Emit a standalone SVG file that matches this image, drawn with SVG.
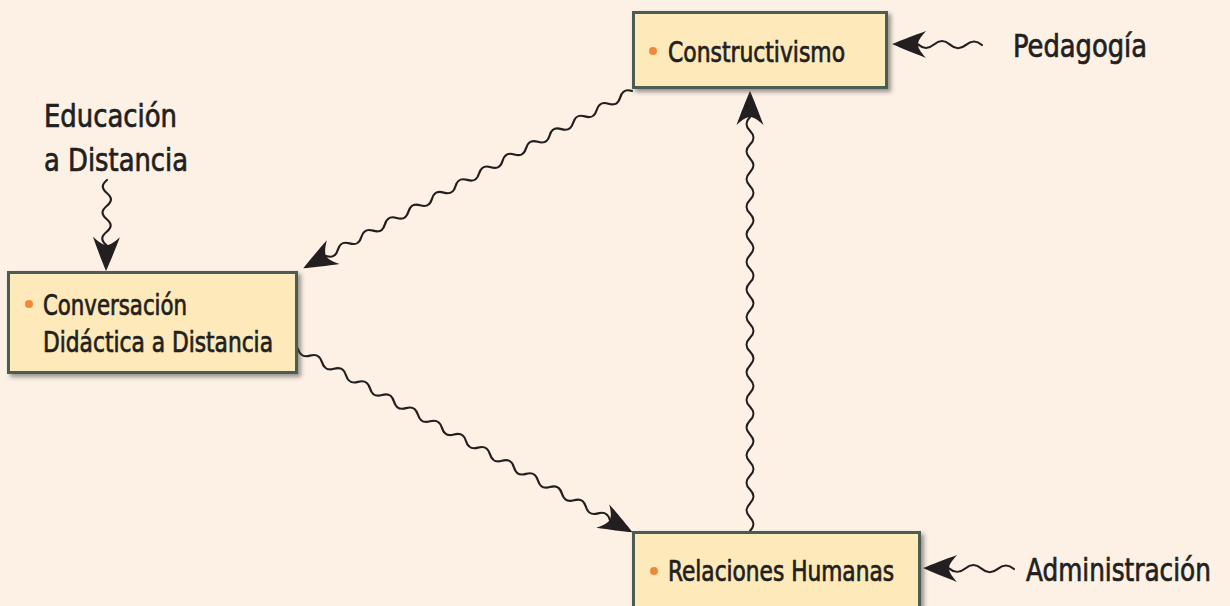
<svg xmlns="http://www.w3.org/2000/svg" xmlns:xlink="http://www.w3.org/1999/xlink" width="1230" height="606" viewBox="0 0 1230 606">
<style>
.bg{fill:#fdf0e5}
.box{fill:#fde9b9;stroke:#4b5b52;stroke-width:3;filter:url(#sh)}
.dot{fill:#f0883a}
.t{font-family:"DejaVu Sans Condensed","DejaVu Sans",sans-serif;font-stretch:condensed;fill:#231f20;stroke:#231f20;stroke-width:0.7px}
.bt{font-size:28px}
.lt{font-size:32px}
.w{fill:none;stroke:#231f20;stroke-width:2.2;stroke-linecap:round}
.ah{fill:#231f20}
</style>
<defs>
<filter id="sh" x="-10%" y="-10%" width="125%" height="135%">
<feDropShadow dx="3" dy="3" stdDeviation="2" flood-color="#444" flood-opacity="0.55"/>
</filter>
<path id="ah" d="M0,0 C-9,-4 -22,-9 -34,-13.5 C-28,-7 -26,-3 -26,0 C-26,3 -28,7 -34,13.5 C-22,9 -9,4 0,0 Z"/>
</defs>
<rect class="bg" x="0" y="0" width="1230" height="606"/>

<g id="connectors">
<g id="c-constr-conv" transform="translate(632,91) rotate(151.65)">
<path class="w" d="M0,0 c4.81,4.8 8.56,4.8 13.37,0 c4.81,-4.8 8.56,-4.8 13.37,0 c4.81,4.8 8.56,4.8 13.37,0 c4.81,-4.8 8.56,-4.8 13.37,0 c4.81,4.8 8.56,4.8 13.37,0 c4.81,-4.8 8.56,-4.8 13.37,0 c4.81,4.8 8.56,4.8 13.37,0 c4.81,-4.8 8.56,-4.8 13.37,0 c4.81,4.8 8.56,4.8 13.37,0 c4.81,-4.8 8.56,-4.8 13.37,0 c4.81,4.8 8.56,4.8 13.37,0 c4.81,-4.8 8.56,-4.8 13.37,0 c4.81,4.8 8.56,4.8 13.37,0 c4.81,-4.8 8.56,-4.8 13.37,0 c4.81,4.8 8.56,4.8 13.37,0 c4.81,-4.8 8.56,-4.8 13.37,0 c4.81,4.8 8.56,4.8 13.37,0 c4.81,-4.8 8.56,-4.8 13.37,0 c4.81,4.8 8.56,4.8 13.37,0 c4.81,-4.8 8.56,-4.8 13.37,0 c4.81,4.8 8.56,4.8 13.37,0 c4.81,-4.8 8.56,-4.8 13.37,0 c4.81,4.8 8.56,4.8 13.37,0 c4.81,-4.8 8.56,-4.8 13.37,0 c4.81,4.8 8.56,4.8 13.37,0 c4.81,-4.8 8.56,-4.8 13.37,0"/>
<use xlink:href="#ah" class="ah" transform="translate(373.5,0)"/>
</g>
<g id="c-conv-rel" transform="translate(298,349) rotate(28.72)">
<path class="w" d="M0,0 c4.92,4.8 8.76,4.8 13.68,0 c4.92,-4.8 8.76,-4.8 13.68,0 c4.92,4.8 8.76,4.8 13.68,0 c4.92,-4.8 8.76,-4.8 13.68,0 c4.92,4.8 8.76,4.8 13.68,0 c4.92,-4.8 8.76,-4.8 13.68,0 c4.92,4.8 8.76,4.8 13.68,0 c4.92,-4.8 8.76,-4.8 13.68,0 c4.92,4.8 8.76,4.8 13.68,0 c4.92,-4.8 8.76,-4.8 13.68,0 c4.92,4.8 8.76,4.8 13.68,0 c4.92,-4.8 8.76,-4.8 13.68,0 c4.92,4.8 8.76,4.8 13.68,0 c4.92,-4.8 8.76,-4.8 13.68,0 c4.92,4.8 8.76,4.8 13.68,0 c4.92,-4.8 8.76,-4.8 13.68,0 c4.92,4.8 8.76,4.8 13.68,0 c4.92,-4.8 8.76,-4.8 13.68,0 c4.92,4.8 8.76,4.8 13.68,0 c4.92,-4.8 8.76,-4.8 13.68,0 c4.92,4.8 8.76,4.8 13.68,0 c4.92,-4.8 8.76,-4.8 13.68,0 c4.92,4.8 8.76,4.8 13.68,0 c4.92,-4.8 8.76,-4.8 13.68,0 c4.92,4.8 8.76,4.8 13.68,0 c4.92,-4.8 8.76,-4.8 13.68,0"/>
<use xlink:href="#ah" class="ah" transform="translate(381.5,0)"/>
</g>
<g id="c-rel-constr" transform="translate(750,531) rotate(-90)">
<path class="w" d="M0,0 c4.97,4.8 8.83,4.8 13.8,0 c4.97,-4.8 8.83,-4.8 13.8,0 c4.97,4.8 8.83,4.8 13.8,0 c4.97,-4.8 8.83,-4.8 13.8,0 c4.97,4.8 8.83,4.8 13.8,0 c4.97,-4.8 8.83,-4.8 13.8,0 c4.97,4.8 8.83,4.8 13.8,0 c4.97,-4.8 8.83,-4.8 13.8,0 c4.97,4.8 8.83,4.8 13.8,0 c4.97,-4.8 8.83,-4.8 13.8,0 c4.97,4.8 8.83,4.8 13.8,0 c4.97,-4.8 8.83,-4.8 13.8,0 c4.97,4.8 8.83,4.8 13.8,0 c4.97,-4.8 8.83,-4.8 13.8,0 c4.97,4.8 8.83,4.8 13.8,0 c4.97,-4.8 8.83,-4.8 13.8,0 c4.97,4.8 8.83,4.8 13.8,0 c4.97,-4.8 8.83,-4.8 13.8,0 c4.97,4.8 8.83,4.8 13.8,0 c4.97,-4.8 8.83,-4.8 13.8,0 c4.97,4.8 8.83,4.8 13.8,0 c4.97,-4.8 8.83,-4.8 13.8,0 c4.97,4.8 8.83,4.8 13.8,0 c4.97,-4.8 8.83,-4.8 13.8,0 c4.97,4.8 8.83,4.8 13.8,0 c4.97,-4.8 8.83,-4.8 13.8,0 c4.97,4.8 8.83,4.8 13.8,0 c4.97,-4.8 8.83,-4.8 13.8,0 c4.97,4.8 8.83,4.8 13.8,0 c4.97,-4.8 8.83,-4.8 13.8,0"/>
<use xlink:href="#ah" class="ah" transform="translate(440,0)"/>
</g>
<g id="c-edu" transform="translate(107,180) rotate(90.6)">
<path class="w" d="M0,0 c4.68,5.5 8.32,5.5 13,0 c4.68,-5.5 8.32,-5.5 13,0 c4.68,5.5 8.32,5.5 13,0 c4.68,-5.5 8.32,-5.5 13,0 c4.68,5.5 8.32,5.5 13,0"/>
<use xlink:href="#ah" class="ah" transform="translate(91,0)"/>
</g>
<g id="c-ped" transform="translate(982,45) rotate(180.6)">
<path class="w" d="M0,0 c5.76,4.8 10.24,4.8 16,0 c5.76,-4.8 10.24,-4.8 16,0 c5.76,4.8 10.24,4.8 16,0 c5.76,-4.8 10.24,-4.8 16,0"/>
<use xlink:href="#ah" class="ah" transform="translate(90,0)"/>
</g>
<g id="c-adm" transform="translate(1014,569) rotate(180.6)">
<path class="w" d="M0,0 c5.85,4.8 10.4,4.8 16.25,0 c5.85,-4.8 10.4,-4.8 16.25,0 c5.85,4.8 10.4,4.8 16.25,0 c5.85,-4.8 10.4,-4.8 16.25,0"/>
<use xlink:href="#ah" class="ah" transform="translate(91,0)"/>
</g>
</g>

<g id="node-constructivismo">
<rect class="box" x="633.5" y="12.5" width="253" height="75"/>
<circle class="dot" cx="653" cy="51" r="4"/>
<text class="t bt" x="668" y="62" textLength="177" lengthAdjust="spacingAndGlyphs">Constructivismo</text>
</g>
<g id="node-conversacion">
<rect class="box" x="8.5" y="272.5" width="288" height="100"/>
<circle class="dot" cx="29" cy="304" r="4"/>
<text class="t bt" x="43" y="315" textLength="144" lengthAdjust="spacingAndGlyphs">Conversación</text>
<text class="t bt" x="43" y="352" textLength="230" lengthAdjust="spacingAndGlyphs">Didáctica a Distancia</text>
</g>
<g id="node-relaciones">
<rect class="box" x="633.5" y="532.5" width="286" height="100"/>
<circle class="dot" cx="654" cy="571" r="4"/>
<text class="t bt" x="668" y="581" textLength="226" lengthAdjust="spacingAndGlyphs">Relaciones Humanas</text>
</g>
<g id="label-pedagogia">
<text class="t lt" x="1013" y="57" textLength="134" lengthAdjust="spacingAndGlyphs">Pedagogía</text>
</g>
<g id="label-educacion">
<text class="t lt" x="44" y="127" textLength="133" lengthAdjust="spacingAndGlyphs">Educación</text>
<text class="t lt" x="44" y="171" textLength="144" lengthAdjust="spacingAndGlyphs">a Distancia</text>
</g>
<g id="label-administracion">
<text class="t lt" x="0" y="0" transform="translate(1026,581) scale(0.86,1)">Administración</text>
</g>
</svg>
